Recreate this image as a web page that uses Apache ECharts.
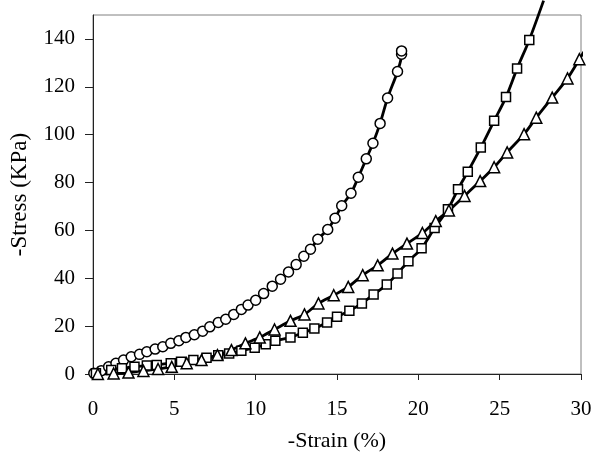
<!DOCTYPE html>
<html>
<head>
<meta charset="utf-8">
<script src="https://cdn.jsdelivr.net/npm/echarts@6/dist/echarts.min.js"></script>
<style>
  html, body { margin: 0; padding: 0; background: #fff; }
  #chart { width: 601px; height: 463px; }
</style>
</head>
<body>
<div id="chart"></div>
<script>
// strain (%), stress (KPa)
const circleStrain = [0.05, 0.51, 0.96, 1.41, 1.88, 2.35, 2.86, 3.31, 3.82, 4.29, 4.78, 5.28, 5.71, 6.23, 6.74, 7.18, 7.70, 8.16, 8.65, 9.12, 9.53, 10.0, 10.49, 11.02, 11.53, 12.02, 12.49, 12.96, 13.37, 13.82, 14.43, 14.88, 15.29, 15.86, 16.31, 16.80, 17.21, 17.65, 18.11, 18.72, 18.97, 18.97];
const circleStress = [0.3, 1.4, 3.0, 4.5, 5.8, 7.2, 8.2, 9.3, 10.4, 11.4, 12.8, 13.9, 15.3, 16.4, 17.9, 19.7, 21.5, 22.9, 24.9, 27.0, 28.8, 30.8, 33.6, 36.7, 39.6, 42.6, 45.7, 49.2, 52.1, 56.3, 60.4, 65.1, 70.3, 75.5, 82.2, 89.9, 96.4, 104.7, 115.3, 126.4, 133.6, 135.0];

const squareStrain = [0.18, 1.12, 1.78, 2.55, 3.31, 3.92, 4.78, 5.41, 6.17, 6.98, 7.70, 8.37, 9.12, 9.94, 10.62, 11.21, 12.14, 12.90, 13.61, 14.39, 15.0, 15.76, 16.53, 17.25, 18.06, 18.72, 19.39, 20.2, 21.0, 21.82, 22.44, 23.04, 23.84, 24.66, 25.39, 26.07, 26.82];
const squareStress = [0.3, 1.7, 2.4, 3.0, 3.5, 3.8, 4.5, 5.1, 5.8, 6.8, 7.8, 8.6, 9.7, 11.0, 12.4, 13.9, 15.3, 17.2, 19.0, 21.5, 23.9, 26.4, 29.5, 33.2, 37.4, 42.0, 47.1, 52.5, 61.0, 68.8, 77.2, 84.5, 94.6, 105.8, 115.7, 127.6, 139.6];
const squareFitEnd = [27.7, 156];

const triangleStrain = [0.3, 1.27, 2.18, 3.1, 4.0, 4.84, 5.76, 6.67, 7.65, 8.51, 9.37, 10.25, 11.16, 12.14, 13.0, 13.86, 14.80, 15.69, 16.58, 17.50, 18.41, 19.3, 20.25, 21.07, 21.88, 22.84, 23.80, 24.66, 25.46, 26.5, 27.25, 28.23, 29.17, 29.90];
const triangleStress = [0, 0.2, 0.6, 1.3, 2.1, 3.0, 4.5, 5.8, 7.9, 10.0, 12.8, 15.3, 18.6, 22.2, 24.9, 29.5, 32.9, 36.4, 41.3, 45.4, 50.3, 54.5, 58.9, 63.9, 68.3, 74.4, 80.6, 86.4, 92.6, 100.2, 107.1, 115.5, 123.5, 131.5];
const triangleFitEnd = [30.4, 137];

const xTicks = [0, 5, 10, 15, 20, 25, 30];
const yTicks = [0, 20, 40, 60, 80, 100, 120, 140];

const font = "Liberation Serif";

function pairs(xs, ys, end) {
  const out = xs.map((x, i) => [x, ys[i]]);
  if (end) out.push({ value: end, symbol: "none" });
  return out;
}

function makeSeries(name, symbol, size, data) {
  return {
    name: name,
    type: "line",
    data: data,
    symbol: symbol,
    symbolSize: size,
    smooth: 0.3,
    clip: false,
    showAllSymbol: true,
    lineStyle: { color: "#000", width: 2.8 },
    itemStyle: { color: "#fff", borderColor: "#000", borderWidth: 1.5 },
    emphasis: { disabled: true },
  };
}

const chart = echarts.init(document.getElementById("chart"), null, { renderer: "canvas" });
chart.setOption({
  animation: false,
  backgroundColor: "#fff",
  grid: {
    left: 91,
    right: 20,
    top: 15,
    bottom: 89,
    show: true,
    borderColor: "#808080",
    borderWidth: 1,
  },
  xAxis: {
    type: "value",
    min: 0,
    max: 30,
    interval: 5,
    name: "-Strain (%)",
    nameLocation: "middle",
    nameGap: 56,
    nameTextStyle: { fontFamily: font, fontSize: 22, color: "#000" },
    axisLine: { show: true, lineStyle: { color: "#222", width: 1 } },
    axisTick: { show: true, length: 6, lineStyle: { color: "#222" }, customValues: xTicks },
    axisLabel: { fontFamily: font, fontSize: 21, color: "#000", margin: 25, customValues: xTicks },
    splitLine: { show: false },
  },
  yAxis: {
    type: "value",
    min: 0,
    max: 150,
    name: "-Stress (KPa)",
    nameLocation: "middle",
    nameGap: 62,
    nameRotate: 90,
    nameTextStyle: { fontFamily: font, fontSize: 23, color: "#000" },
    axisLine: { show: true, lineStyle: { color: "#222", width: 1 } },
    axisTick: { show: true, length: 8, lineStyle: { color: "#222" }, customValues: yTicks },
    axisLabel: { fontFamily: font, fontSize: 21, color: "#000", margin: 18, customValues: yTicks },
    splitLine: { show: false },
  },
  series: [
    makeSeries("circle", "circle", 10, pairs(circleStrain, circleStress)),
    makeSeries("square", "rect", 9, pairs(squareStrain, squareStress, squareFitEnd)),
    makeSeries("triangle", "triangle", 11, pairs(triangleStrain, triangleStress, triangleFitEnd)),
  ],
});
</script>
</body>
</html>
